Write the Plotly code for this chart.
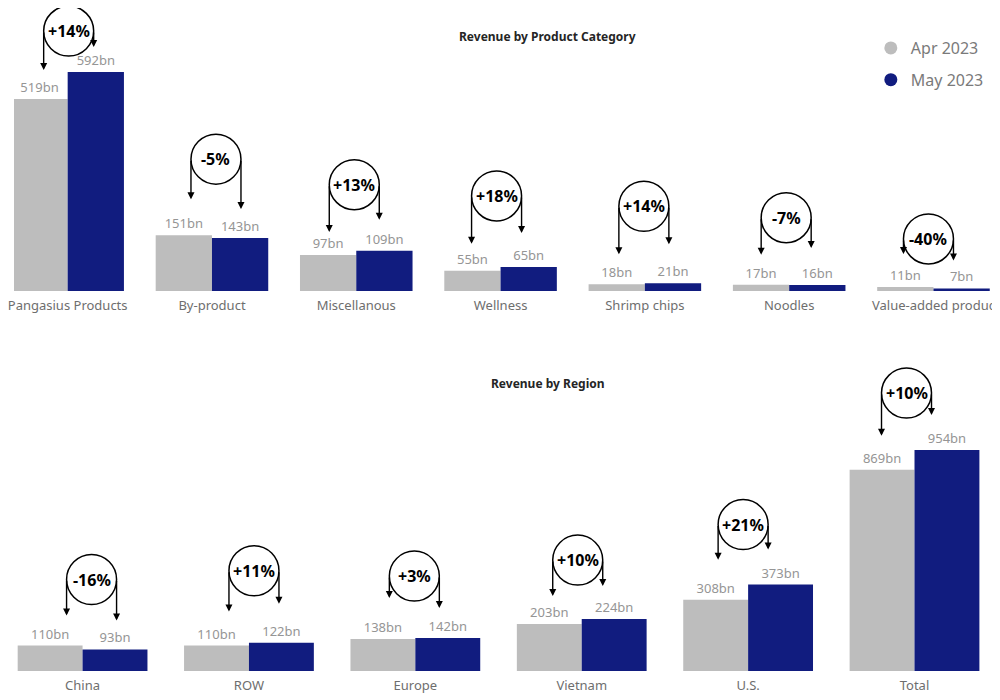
import plotly.graph_objects as go

# ---------------- data ----------------
prod_categories = ["Pangasius Products", "By-product", "Miscellanous", "Wellness",
                   "Shrimp chips", "Noodles", "Value-added produc"]
prod_apr = [519, 151, 97, 55, 18, 17, 11]
prod_may = [592, 143, 109, 65, 21, 16, 7]
prod_pct = ["+14%", "-5%", "+13%", "+18%", "+14%", "-7%", "-40%"]

region_categories = ["China", "ROW", "Europe", "Vietnam", "U.S.", "Total"]
region_apr = [110, 110, 138, 203, 308, 869]
region_may = [93, 122, 142, 224, 373, 954]
region_pct = ["-16%", "+11%", "+3%", "+10%", "+21%", "+10%"]

series_names = ["Apr 2023", "May 2023"]

# ---------------- style ----------------
W, H = 1000, 700
GREY = "#BDBDBD"
NAVY = "#111C7F"
LABEL_GREY = "#959595"
TICK_GREY = "#6E6E6E"
FONT = "Segoe UI, Noto Sans, Open Sans, sans-serif"
PAGE_OFF = 8  # browser body margin

top_dom = [1 - (291 - PAGE_OFF) / H, 1.0]
bot_dom = [1 - (671 - PAGE_OFF) / H, 1 - (350 - PAGE_OFF) / H]
top_range = [0, 765.1]
bot_range = [0, 1386]

R = 25  # circle radius px
# hand-placed callout offsets (pixels): circle x-shift, circle height above taller bar,
# arrow tip heights above the Apr / May bars
prod_style = dict(dx=[1, 4, -2, -4, -1, -3, -5],
                  dy=[41, 76, 66, 71, 77, 67, 48],
                  tip_a=[29, 36, 23, 27, 30, 30, 33],
                  tip_b=[25, 29, 31, 34, 39, 37, 28])
region_style = dict(dx=[9, 5, -1, -4, -5, -8],
                    dy=[66, 72, 62, 59, 60, 57],
                    tip_a=[30, 34, 41, 28, 40, 34],
                    tip_b=[29, 39, 30, 33, 35, 35])

fig = go.Figure()

def add_bars(cats, apr, may, xa, ya):
    for name, vals, col in [(series_names[0], apr, GREY), (series_names[1], may, NAVY)]:
        fig.add_trace(go.Bar(
            x=cats, y=vals, name=name, marker=dict(color=col, line=dict(width=0)),
            text=[f"{v}bn" for v in vals], textposition="outside",
            textfont=dict(color=LABEL_GREY, size=13, family=FONT),
            cliponaxis=False, showlegend=False, xaxis=xa, yaxis=ya,
            hoverinfo="x+y"))

add_bars(prod_categories, prod_apr, prod_may, "x", "y")
add_bars(region_categories, region_apr, region_may, "x2", "y2")

# legend entries with circular markers
for i, (name, col) in enumerate([(series_names[0], GREY), (series_names[1], NAVY)]):
    fig.add_trace(go.Scatter(x=[None], y=[None], mode="markers", name=name,
                             marker=dict(color=col, size=13, symbol="circle"),
                             legendgroup=f"g{i}", showlegend=True,
                             xaxis="x", yaxis="y"))

shapes = []
annotations = []

def add_deltas(cats, apr, may, pct, xr, yr, dom, rng, st):
    plot_h = (dom[1] - dom[0]) * H
    scale = plot_h / (rng[1] - rng[0])
    for i in range(len(cats)):
        a, b = apr[i], may[i]
        m = max(a, b)
        dx, off = st["dx"][i], st["dy"][i]
        centre_h = m * scale + off
        shapes.append(dict(type="circle", xref=xr, yref=yr,
                           xsizemode="pixel", ysizemode="pixel",
                           xanchor=i, yanchor=m,
                           x0=dx - R, x1=dx + R, y0=off - R, y1=off + R,
                           line=dict(color="black", width=1.5),
                           fillcolor="rgba(0,0,0,0)", layer="above"))
        annotations.append(dict(x=i, y=m, xref=xr, yref=yr, xshift=dx, yshift=off,
                                text=f"<b>{pct[i]}</b>", showarrow=False,
                                font=dict(size=16, color="black", family=FONT)))
        for v, sx, tip in [(a, dx - R, st["tip_a"][i]), (b, dx + R, st["tip_b"][i])]:
            tip_h = v * scale + tip
            annotations.append(dict(x=i, y=v, xref=xr, yref=yr,
                                    xshift=sx, yshift=tip, text="",
                                    showarrow=True, ax=0, ay=-(centre_h - tip_h),
                                    arrowhead=2, arrowsize=1, arrowwidth=1.4,
                                    arrowcolor="black", standoff=0, startstandoff=0))

add_deltas(prod_categories, prod_apr, prod_may, prod_pct, "x", "y",
           top_dom, top_range, prod_style)
add_deltas(region_categories, region_apr, region_may, region_pct, "x2", "y2",
           bot_dom, bot_range, region_style)

annotations.append(dict(x=(545 - PAGE_OFF) / W, y=1 - (37 - PAGE_OFF) / H,
                        xref="paper", yref="paper", yanchor="middle",
                        text="<b>Revenue by Product Category</b>", showarrow=False,
                        font=dict(size=12, color="#252525", family=FONT)))
annotations.append(dict(x=(545 - PAGE_OFF) / W, y=1 - (383 - PAGE_OFF) / H,
                        xref="paper", yref="paper", yanchor="middle",
                        text="<b>Revenue by Region</b>", showarrow=False,
                        font=dict(size=12, color="#252525", family=FONT)))

axis_common = dict(showgrid=False, zeroline=False, showline=False, ticks="",
                   tickfont=dict(size=13, color=TICK_GREY, family=FONT),
                   ticklabelstandoff=5, fixedrange=True)
yaxis_common = dict(showgrid=False, zeroline=False, showline=False,
                    showticklabels=False, ticks="", fixedrange=True)

fig.update_layout(
    width=W, height=H,
    margin=dict(l=0, r=0, t=0, b=0),
    paper_bgcolor="white", plot_bgcolor="white",
    barmode="group", bargap=0.22, bargroupgap=0,
    font=dict(family=FONT),
    xaxis=dict(domain=[0, 1], anchor="y", range=[-0.3719, 6.5165], **axis_common),
    yaxis=dict(domain=top_dom, anchor="x", range=top_range, **yaxis_common),
    xaxis2=dict(domain=[0, 1], anchor="y2", range=[-0.4121, 5.5619], **axis_common),
    yaxis2=dict(domain=bot_dom, anchor="x2", range=bot_range, **yaxis_common),
    shapes=shapes, annotations=annotations,
    showlegend=True,
    legend=dict(x=0.862, y=1 - 23 / H, xanchor="left", yanchor="top",
                font=dict(size=16, color="#7A7A7A", family=FONT),
                bgcolor="rgba(0,0,0,0)", traceorder="grouped", tracegroupgap=8,
                itemwidth=30),
)

fig.write_html("out.html")
